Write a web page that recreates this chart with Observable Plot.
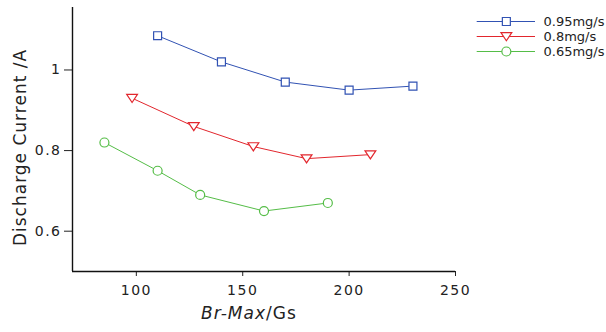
<!DOCTYPE html>
<html>
<head>
<meta charset="utf-8">
<script src="https://cdn.jsdelivr.net/npm/d3@7"></script>
<script src="https://cdn.jsdelivr.net/npm/@observablehq/plot@0.6"></script>
<style>
  html, body { margin: 0; padding: 0; background: #fff; }
  #wrap { position: relative; width: 606px; height: 332px; }
  #legend { position: absolute; left: 466px; top: 0px; }
  svg { font-family: "DejaVu Sans", sans-serif; }
  #chart .tick-text text { letter-spacing: 1.5px; }
  #chart .axis-title text { letter-spacing: 1px; }
</style>
</head>
<body>
<div id="wrap"><div id="chart"></div><div id="legend"></div></div>
<script>
// Discharge current versus peak radial magnetic field, for three flow rates
const seriesNames = ["0.95mg/s", "0.8mg/s", "0.65mg/s"];
const seriesColors = ["#3152b3", "#e2262d", "#55bd47"];

const brHigh = [110, 140, 170, 200, 230];
const currentHigh = [1.085, 1.02, 0.97, 0.95, 0.96];

const brMid = [98, 127, 155, 180, 210];
const currentMid = [0.93, 0.86, 0.81, 0.78, 0.79];

const brLow = [85, 110, 130, 160, 190];
const currentLow = [0.82, 0.75, 0.69, 0.65, 0.67];

const xTicks = [100, 150, 200, 250];
const yTicks = [0.6, 0.8, 1];

// open down-pointing triangle
const triangleDown = {
  draw(context, size) {
    const r = Math.sqrt(size / Math.PI);
    context.moveTo(-1.2 * r, -0.85 * r);
    context.lineTo(1.2 * r, -0.85 * r);
    context.lineTo(0, 0.95 * r);
    context.closePath();
  }
};
const seriesSymbols = ["square", triangleDown, "circle"];

const rows = [
  ...brHigh.map((b, i) => ({series: seriesNames[0], br: b, current: currentHigh[i]})),
  ...brMid.map((b, i) => ({series: seriesNames[1], br: b, current: currentMid[i]})),
  ...brLow.map((b, i) => ({series: seriesNames[2], br: b, current: currentLow[i]}))
];

const colorOf = Object.fromEntries(seriesNames.map((s, i) => [s, seriesColors[i]]));
const symbolOf = Object.fromEntries(seriesNames.map((s, i) => [s, seriesSymbols[i]]));

const seriesMarks = seriesNames.flatMap(name => {
  const data = rows.filter(d => d.series === name);
  return [
    Plot.line(data, {x: "br", y: "current", stroke: colorOf[name], strokeWidth: 1}),
    Plot.dot(data, {x: "br", y: "current", stroke: colorOf[name], fill: "white", r: 4.5, strokeWidth: 1.2, symbol: symbolOf[name]})
  ];
});

const chart = Plot.plot({
  width: 606,
  height: 332,
  marginLeft: 72,
  marginRight: 151,
  marginTop: 7,
  marginBottom: 61,
  style: {fontFamily: "'DejaVu Sans', sans-serif", background: "white", color: "#222"},
  x: {domain: [70, 250]},
  y: {domain: [0.5, 1.155]},
  marks: [
    ...seriesMarks,
    Plot.axisX({ticks: xTicks, tickSize: 5, tickPadding: 9, fontSize: 14, label: null, stroke: "#222", className: "tick-text"}),
    Plot.axisY({ticks: yTicks, tickSize: 8, tickPadding: 3, fontSize: 14, label: null, tickFormat: d => String(d), stroke: "#222", className: "tick-text"}),
    Plot.ruleX([70], {stroke: "#111", strokeWidth: 1.4}),
    Plot.ruleY([0.5], {stroke: "#111", strokeWidth: 1.4}),
    Plot.text(["Discharge Current /A"], {frameAnchor: "left", dx: -52, dy: 8, rotate: -90, textAnchor: "middle", fontSize: 17, fill: "#222", className: "axis-title"}),
    Plot.text(["Br-Max"], {frameAnchor: "bottom", dx: 2, dy: 47, textAnchor: "end", fontSize: 17, fontStyle: "italic", fill: "#222", className: "axis-title"}),
    Plot.text(["/Gs"], {frameAnchor: "bottom", dx: 2, dy: 47, textAnchor: "start", fontSize: 17, fill: "#222", className: "axis-title"})
  ]
});
document.getElementById("chart").appendChild(chart);

// legend: sample line, marker and name for each series
const legend = Plot.plot({
  width: 140,
  height: 62,
  margin: 0,
  style: {fontFamily: "'DejaVu Sans', sans-serif", background: "transparent"},
  x: {domain: [0, 1], range: [10.7, 69]},
  y: {type: "point", domain: seriesNames, range: [20.2, 51.2], padding: 0},
  marks: [
    Plot.ruleY(seriesNames, {y: d => d, x1: 0, x2: 1, stroke: d => colorOf[d], strokeWidth: 1}),
    ...seriesNames.map(name => Plot.dot([name], {x: 0.5, y: d => d, stroke: colorOf[name], fill: "white", r: 4.5, strokeWidth: 1.2, symbol: symbolOf[name]})),
    Plot.text(seriesNames, {x: 1, y: d => d, dx: 8, textAnchor: "start", fontSize: 13, fill: "#222"})
  ]
});
document.getElementById("legend").appendChild(legend);
</script>
</body>
</html>
